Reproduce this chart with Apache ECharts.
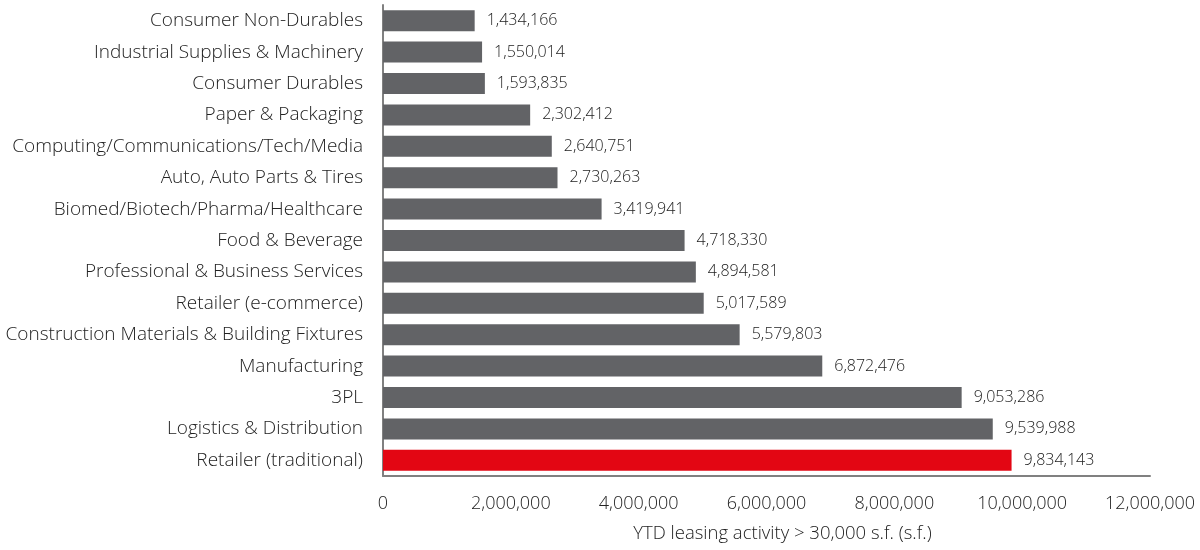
<!DOCTYPE html>
<html>
<head>
<meta charset="utf-8">
<script src="https://cdn.jsdelivr.net/npm/echarts@6/dist/echarts.min.js"></script>
<style>html,body{margin:0;padding:0;background:#fff}#c{width:1200px;height:550px}</style>
</head>
<body>
<div id="c"></div>
<script>
const categories = ["Consumer Non-Durables","Industrial Supplies & Machinery","Consumer Durables","Paper & Packaging","Computing/Communications/Tech/Media","Auto, Auto Parts & Tires","Biomed/Biotech/Pharma/Healthcare","Food & Beverage","Professional & Business Services","Retailer (e-commerce)","Construction Materials & Building Fixtures","Manufacturing","3PL","Logistics & Distribution","Retailer (traditional)"];
const values = [1434166,1550014,1593835,2302412,2640751,2730263,3419941,4718330,4894581,5017589,5579803,6872476,9053286,9539988,9834143];
const highlight = "Retailer (traditional)";
const axisName = "YTD leasing activity > 30,000 s.f. (s.f.)";

const font = "'Open Sans', 'Noto Sans', sans-serif";
const fmt = v => v.toLocaleString('en-US');
const chart = echarts.init(document.getElementById('c'), null, {renderer:'canvas'});
chart.setOption({
  animation:false,
  grid:{left:383,right:50,top:5,bottom:74,containLabel:false},
  xAxis:{
    type:'value',min:0,max:12000000,interval:2000000,
    name:axisName,nameLocation:'middle',nameGap:48,
    nameTextStyle:{fontFamily:font,fontSize:18.5,color:'#222',fontWeight:300,padding:[0,0,0,32]},
    axisLine:{show:true,lineStyle:{color:'#808080',width:2}},
    axisTick:{show:false},splitLine:{show:false},
    axisLabel:{formatter:fmt,fontFamily:font,fontSize:18,color:'#222',fontWeight:300,margin:19}
  },
  yAxis:{
    type:'category',data:categories,inverse:true,
    axisLine:{show:true,lineStyle:{color:'#808080',width:2}},
    axisTick:{show:false},
    axisLabel:{fontFamily:font,fontSize:19,color:'#222',fontWeight:300,margin:20}
  },
  series:[{
    type:'bar',barWidth:21,
    data:values.map((v,i)=>({value:v,itemStyle:{color:categories[i]===highlight?'#e30613':'#626366'}})),
    label:{show:true,position:'right',distance:12,formatter:p=>fmt(p.value),fontFamily:font,fontSize:16,color:'#222',fontWeight:300}
  }]
});
</script>
</body>
</html>
